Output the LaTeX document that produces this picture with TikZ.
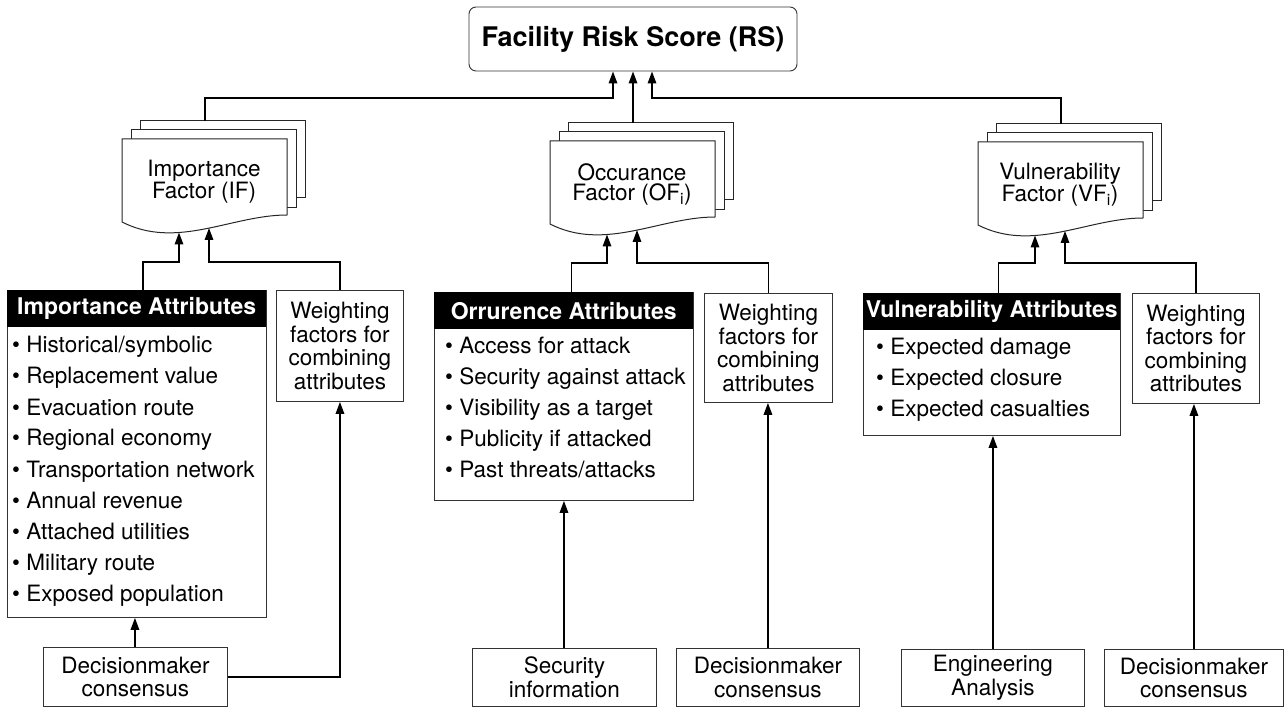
\documentclass[tikz,border=0pt]{standalone}
\usepackage{fontspec}
\setmainfont{TeX Gyre Heros}
\usetikzlibrary{arrows.meta}
\newcommand\DocStack[4]{%
  \begin{scope}[shift={(#2,#3)}]
    \draw[sheet] (18,-18) rectangle (183,59);
    \draw[sheet] (9,-9) rectangle (174,69);
    \draw[sheet] (0,0) -- (165,0) -- (165,76) .. controls (110,76) and (55,111) .. (0,83) -- cycle;
    \node[txt, align=center, font=\fontsize{22.5}{20}\selectfont] (#1-t) at (82,43) {#4};
    \coordinate (#1-top) at (83,-18);
    \coordinate (#1-a) at (57,93.5);
    \coordinate (#1-b) at (87,89);
  \end{scope}}
\begin{document}
\begin{tikzpicture}[x=1pt,y=-1pt,
  sheet/.style={draw=black!85, line width=1pt, fill=white},
  box/.style={draw=black!80, line width=0.9pt, fill=white, inner sep=0pt, anchor=north west, align=center, font=\fontsize{22.5}{23.5}\selectfont},
  hdr/.style={fill=black, text=white, inner sep=0pt, anchor=north west, font=\fontsize{23}{25}\selectfont\bfseries},
  txt/.style={inner sep=0pt, text=black},
  item/.style={txt, anchor=base west, font=\fontsize{22.5}{24}\selectfont},
  conn/.style={line width=1.6pt, black},
  arr/.style={conn, -{Triangle[length=12pt,width=8.5pt]}}]
\useasboundingbox (0,0) rectangle (1285,708);

% top box
\node[box, anchor=center, rounded corners=7pt, minimum width=328pt, minimum height=64pt,
      font=\fontsize{27}{30}\selectfont\bfseries] (rs) at (633,39) {Facility Risk Score (RS)};
\coordinate (hub) at (633,98);

% factor stacks
\DocStack{IF}{122}{139}{Importance\\Factor (IF)}
\DocStack{OF}{550}{141}{Occurance\\Factor (OF\textsubscript{i})}
\DocStack{VF}{978}{142}{Vulnerability\\Factor (VF\textsubscript{i})}

% importance column
\node[box, minimum width=259pt, minimum height=327pt] (ia) at (7,290) {};
\node[hdr, minimum width=259pt, minimum height=37pt] (iah) at (ia.north west) {Importance Attributes};
\foreach \t [count=\i] in {Historical/symbolic, Replacement value, Evacuation route, Regional economy,
  Transportation network, Annual revenue, Attached utilities, Military route, Exposed population}
  \node[item] (ia-\i) at (12,{353+31*(\i-1)}) {\textbullet\ \t};
\node[box, minimum width=127pt, minimum height=111pt] (iw) at (276,290) {Weighting\\factors for\\combining\\attributes};
\node[box, minimum width=184pt, minimum height=59pt] (dm1) at (43,647) {Decisionmaker\\consensus};

% occurrence column
\node[box, minimum width=259pt, minimum height=208pt] (oa) at (434,292) {};
\node[hdr, minimum width=259pt, minimum height=37pt] (oah) at (oa.north west) {Orrurence Attributes};
\foreach \t [count=\i] in {Access for attack, Security against attack, Visibility as a target,
  Publicity if attacked, Past threats/attacks}
  \node[item] (oa-\i) at (445,{354+30.8*(\i-1)}) {\textbullet\ \t};
\node[box, minimum width=128pt, minimum height=109pt] (ow) at (704,293) {Weighting\\factors for\\combining\\attributes};
\node[box, minimum width=184pt, minimum height=58pt] (sec) at (472,648) {Security\\information};
\node[box, minimum width=183pt, minimum height=58pt] (dm2) at (676,648) {Decisionmaker\\consensus};

% vulnerability column
\node[box, minimum width=257pt, minimum height=142pt] (va) at (863,293) {};
\node[hdr, minimum width=257pt, minimum height=37pt] (vah) at (va.north west) {Vulnerability Attributes};
\foreach \t [count=\i] in {Expected damage, Expected closure, Expected casualties}
  \node[item] (va-\i) at (876,{355+31*(\i-1)}) {\textbullet\ \t};
\node[box, minimum width=127pt, minimum height=110pt] (vw) at (1132,293) {Weighting\\factors for\\combining\\attributes};
\node[box, minimum width=183pt, minimum height=57pt] (eng) at (901,649) {Engineering\\Analysis};
\node[box, minimum width=179pt, minimum height=57pt] (dm3) at (1104,649) {Decisionmaker\\consensus};

% connectors to RS
\draw[arr] (IF-top) |- ([xshift=-20]hub) -- ([xshift=-20]rs.south);
\draw[arr] (OF-top) -- (rs.south);
\draw[arr] (VF-top) |- ([xshift=19]hub) -- ([xshift=19]rs.south);

% importance connectors
\draw[arr] ([xshift=6]ia.north) -- ++(0,-28) -| (IF-a);
\draw[arr] (iw.north) -- ++(0,-28) -| (IF-b);
\draw[arr] ([xshift=-0.5]dm1.north) -- ([xshift=-0.5]dm1.north |- ia.south);
\draw[arr] (dm1.east) -| (iw.south);

% occurrence connectors
\draw[arr] ([xshift=7.5]oa.north) -- ++(0,-29) -| (OF-a);
\draw[arr] (ow.north) -- ++(0,-30) -| (OF-b);
\draw[arr] ([xshift=-0.5]sec.north) -- ([xshift=-0.5]sec.north |- oa.south);
\draw[arr] (dm2.north) -- (dm2.north |- ow.south);

% vulnerability connectors
\draw[arr] ([xshift=6.5]va.north) -- ++(0,-30) -| (VF-a);
\draw[arr] (vw.north) -- ++(0,-30) -| (VF-b);
\draw[arr] (eng.north) -- (eng.north |- va.south);
\draw[arr] (dm3.north) -- (dm3.north |- vw.south);
\end{tikzpicture}
\end{document}
